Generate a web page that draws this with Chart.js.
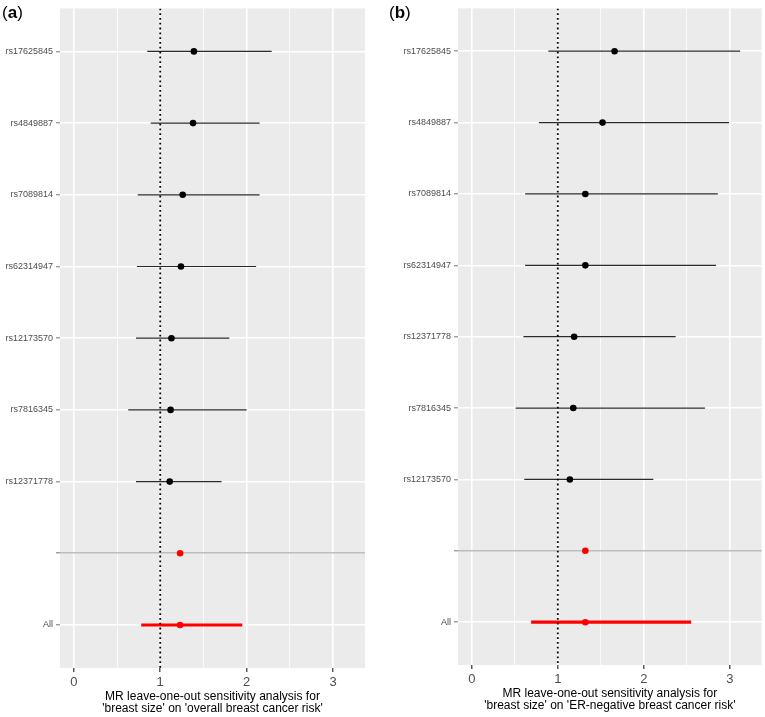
<!DOCTYPE html>
<html>
<head>
<meta charset="utf-8">
<script src="https://cdn.jsdelivr.net/npm/chart.js@4"></script>
<style>
  html, body { margin: 0; padding: 0; background: #fff; }
  #wrap { position: relative; width: 765px; height: 717px; overflow: hidden; }
  .panel { position: absolute; top: 0; height: 717px; }
  .tag { position: absolute; top: 3px; font: 17px "Liberation Sans", Arial, sans-serif; color: #000; }
</style>
</head>
<body>
<div id="wrap">
  <div class="panel" style="left:0;width:383px"><canvas id="chartA"></canvas></div>
  <div class="panel" style="left:383px;width:382px"><canvas id="chartB"></canvas></div>
  <div class="tag" style="left:2px">(<b>a</b>)</div>
  <div class="tag" style="left:389px">(<b>b</b>)</div>
</div>
<script>
// ── Data ─────────────────────────────────────────────────────────────────────

const CATS_A = ['rs17625845', 'rs4849887', 'rs7089814', 'rs62314947', 'rs12173570',
                'rs7816345', 'rs12371778', '', 'All'];
const EST_A  = [1.39, 1.38, 1.26, 1.24, 1.13, 1.12, 1.11, 1.23, 1.23];
const LO_A   = [0.85, 0.89, 0.74, 0.73, 0.72, 0.63, 0.72, null, 0.78];
const HI_A   = [2.29, 2.15, 2.15, 2.11, 1.80, 2.00, 1.71, null, 1.95];

const CATS_B = ['rs17625845', 'rs4849887', 'rs7089814', 'rs62314947', 'rs12371778',
                'rs7816345', 'rs12173570', '', 'All'];
const EST_B  = [1.66, 1.52, 1.32, 1.32, 1.19, 1.18, 1.14, 1.32, 1.32];
const LO_B   = [0.89, 0.78, 0.62, 0.62, 0.60, 0.51, 0.61, null, 0.69];
const HI_B   = [3.12, 2.99, 2.86, 2.84, 2.37, 2.71, 2.11, null, 2.55];

const X_TICKS   = [0, 0.5, 1, 1.5, 2, 2.5, 3];
const X_MIN     = -0.16;
const X_MAX     = 3.37;
const NULL_LINE = 1;

const TITLE_A = ["MR leave-one-out sensitivity analysis for", "'breast size' on 'overall breast cancer risk'"];
const TITLE_B = ["MR leave-one-out sensitivity analysis for", "'breast size' on 'ER-negative breast cancer risk'"];

const FONT = "'Liberation Sans', Arial, sans-serif";

// ── Helpers ──────────────────────────────────────────────────────────────────

const panelBg = {
    id: 'panelBg',
    beforeDraw(chart) {
        const { ctx, chartArea: a } = chart;
        ctx.save();
        ctx.fillStyle = '#ebebeb';
        ctx.fillRect(a.left, a.top, a.right - a.left, a.bottom - a.top);
        ctx.restore();
    }
};

function buildPanel(id, cats, est, lo, hi, title, lay) {
    const n = cats.length;
    const datasets = [];

    // points on top
    datasets.push({
        type: 'scatter',
        order: 0,
        data: est.map((v, i) => ({ x: v, y: i + 1 })),
        pointRadius: 3.3,
        pointHoverRadius: 3.3,
        pointBorderWidth: 0,
        pointBackgroundColor: cats.map(c => (c === 'All' || c === '') ? '#f00' : '#000'),
        pointBorderColor: 'transparent'
    });

    // reference line at 1
    datasets.push({
        type: 'line',
        order: 1,
        data: [{ x: NULL_LINE, y: 0.4 }, { x: NULL_LINE, y: n + 0.6 }],
        borderColor: '#000',
        borderWidth: 1.8,
        borderDash: [1.8, 3],
        pointRadius: 0
    });

    // confidence intervals
    cats.forEach((c, i) => {
        if (lo[i] === null) return;
        const all = c === 'All';
        datasets.push({
            type: 'line',
            order: 2,
            data: [{ x: lo[i], y: i + 1 }, { x: hi[i], y: i + 1 }],
            borderColor: all ? '#f00' : '#2a2a2a',
            borderWidth: all ? 3.2 : 1.2,
            pointRadius: 0
        });
    });

    new Chart(document.getElementById(id), {
        type: 'scatter',
        data: { datasets },
        plugins: [panelBg],
        options: {
            responsive: true,
            maintainAspectRatio: false,
            animation: false,
            events: [],
            layout: { padding: { left: 0, right: lay.right, top: 8, bottom: 0 } },
            plugins: { legend: { display: false }, tooltip: { enabled: false } },
            scales: {
                x: {
                    type: 'linear',
                    min: X_MIN,
                    max: X_MAX,
                    afterBuildTicks: s => { s.ticks = X_TICKS.map(v => ({ value: v })); },
                    afterFit: s => { s.height = lay.xh; },
                    border: { display: false },
                    grid: {
                        color: '#ffffff',
                        lineWidth: c => Number.isInteger(c.tick.value) ? 1.6 : 0.8,
                        tickColor: c => Number.isInteger(c.tick.value) ? '#333' : 'rgba(0,0,0,0)',
                        tickLength: 4,
                        tickWidth: 1.2
                    },
                    ticks: {
                        autoSkip: false,
                        maxRotation: 0,
                        padding: 3,
                        color: '#4d4d4d',
                        font: { family: FONT, size: 13 },
                        callback: v => Number.isInteger(v) ? String(v) : ''
                    },
                    title: {
                        display: true,
                        text: title,
                        color: '#000',
                        font: { family: FONT, size: 12, lineHeight: 0.95 },
                        padding: { top: 4, bottom: lay.tb }
                    }
                },
                y: {
                    type: 'linear',
                    reverse: true,
                    min: 0.4,
                    max: n + 0.6,
                    afterBuildTicks: s => { s.ticks = cats.map((c, i) => ({ value: i + 1 })); },
                    afterFit: s => { s.width = lay.yw; },
                    border: { display: false },
                    grid: {
                        color: c => cats[c.tick.value - 1] === '' ? '#bdbdbd' : '#ffffff',
                        lineWidth: 1.6,
                        tickColor: '#777',
                        tickLength: 4,
                        tickWidth: 1
                    },
                    ticks: {
                        autoSkip: false,
                        padding: 3,
                        color: '#4d4d4d',
                        font: { family: FONT, size: 9 },
                        callback: v => cats[v - 1]
                    }
                }
            }
        }
    });
}

// ── Init ─────────────────────────────────────────────────────────────────────

buildPanel('chartA', CATS_A, EST_A, LO_A, HI_A, TITLE_A, { right: 18, yw: 60, xh: 49, tb: 3 });
buildPanel('chartB', CATS_B, EST_B, LO_B, HI_B, TITLE_B, { right: 2.3, yw: 75, xh: 52, tb: 6 });
</script>
</body>
</html>
